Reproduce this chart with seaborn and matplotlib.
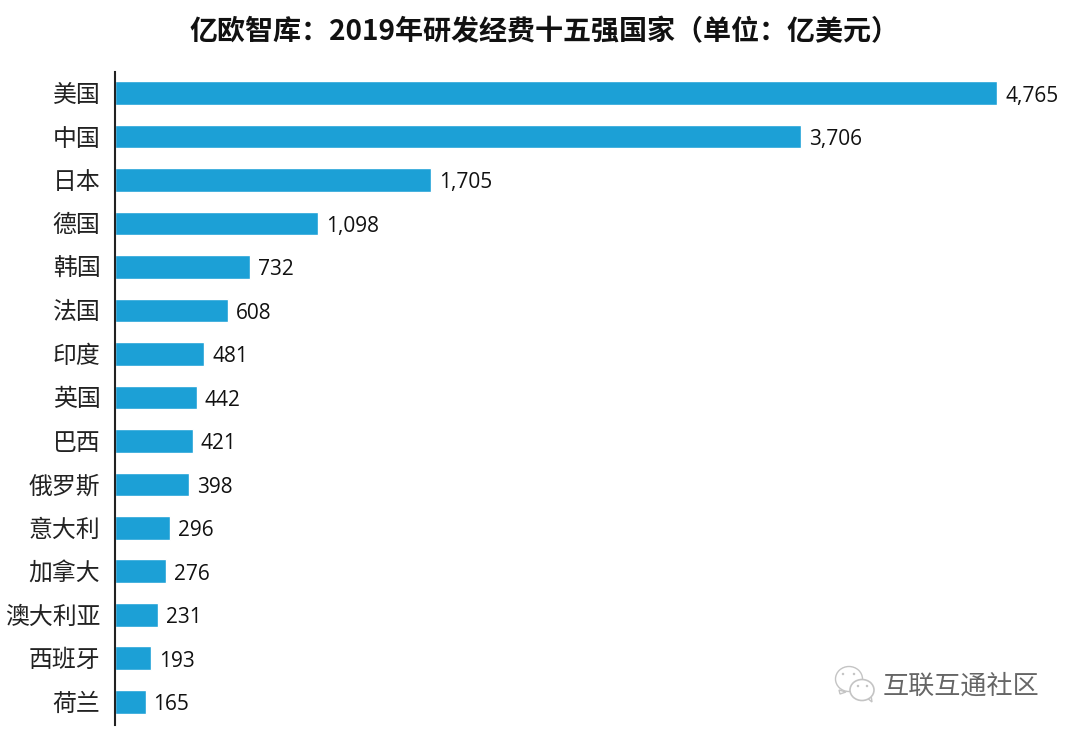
import numpy as np
import pandas as pd
import matplotlib
matplotlib.use("Agg")
import matplotlib.pyplot as plt
from matplotlib.patches import Ellipse, Polygon
import seaborn as sns

countries = ["美国", "中国", "日本", "德国", "韩国", "法国", "印度", "英国", "巴西",
             "俄罗斯", "意大利", "加拿大", "澳大利亚", "西班牙", "荷兰"]
spend = [4765, 3706, 1705, 1098, 732, 608, 481, 442, 421, 398, 296, 276, 231, 193, 165]
title = "亿欧智库：2019年研发经费十五强国家（单位：亿美元）"
watermark = "互联互通社区"

sns.set_theme(style="white")
plt.rcParams['font.family'] = ['Noto Sans CJK SC', 'DejaVu Sans']

W, H = 1073, 733
df = pd.DataFrame({"country": countries, "spend": spend})

fig = plt.figure(figsize=(W / 100, H / 100), dpi=100)
ax = fig.add_axes([115 / W, 1 - 725 / H, (997 - 115) / W, (725 - 72) / H])
sns.barplot(data=df, x="spend", y="country", color="#1ca0d6", saturation=1, width=0.55, ax=ax)

ax.set_xlim(0, 4765)
ax.set_ylim(14.53, -0.483)
ax.set_xlabel("")
ax.set_ylabel("")
ax.xaxis.set_visible(False)
ax.tick_params(axis="y", length=0, pad=10.5, labelsize=17.2, colors="#222222")
for s in ["top", "right", "bottom"]:
    ax.spines[s].set_visible(False)
ax.spines["left"].set_color("#222222")
ax.spines["left"].set_linewidth(1.5)

for i, v in enumerate(spend):
    ax.annotate(f"{v:,}", (v, i), xytext=(8, -3), textcoords="offset pixels",
                va="center", ha="left", fontsize=15, family="Open Sans", color="#111111")

fig.text(544 / W, 1 - 32 / H, title, ha="center", va="center", fontsize=20.2, fontweight="bold", color="#111111")
fig.text(961 / W, 1 - 686 / H, watermark, ha="center", va="center", fontsize=18.8, color="#666666")

# wechat logo next to the watermark, positions in pixels from the top left
def px(x, y):
    return x / W, 1 - y / H

icon = "#c4c4c4"
fig.add_artist(Polygon([px(839, 690), px(840, 694), px(846, 692)], closed=True, transform=fig.transFigure,
                       fc="white", ec=icon, lw=1))
fig.add_artist(Ellipse(px(849, 679), 27 / W, 25 / H, transform=fig.transFigure, fc="white", ec=icon, lw=1))
fig.add_artist(Polygon([px(866, 697), px(872, 702), px(871, 695)], closed=True, transform=fig.transFigure,
                       fc="white", ec=icon, lw=1))
fig.add_artist(Ellipse(px(862, 690), 24 / W, 21 / H, transform=fig.transFigure, fc="white", ec=icon, lw=1.2))
for ex, ey in [(843, 674), (854, 674), (858, 686), (867, 686)]:
    fig.add_artist(Ellipse(px(ex, ey), 2.5 / W, 2.5 / H, transform=fig.transFigure, fc=icon, ec="none"))

fig.savefig("out.png", dpi=100)
